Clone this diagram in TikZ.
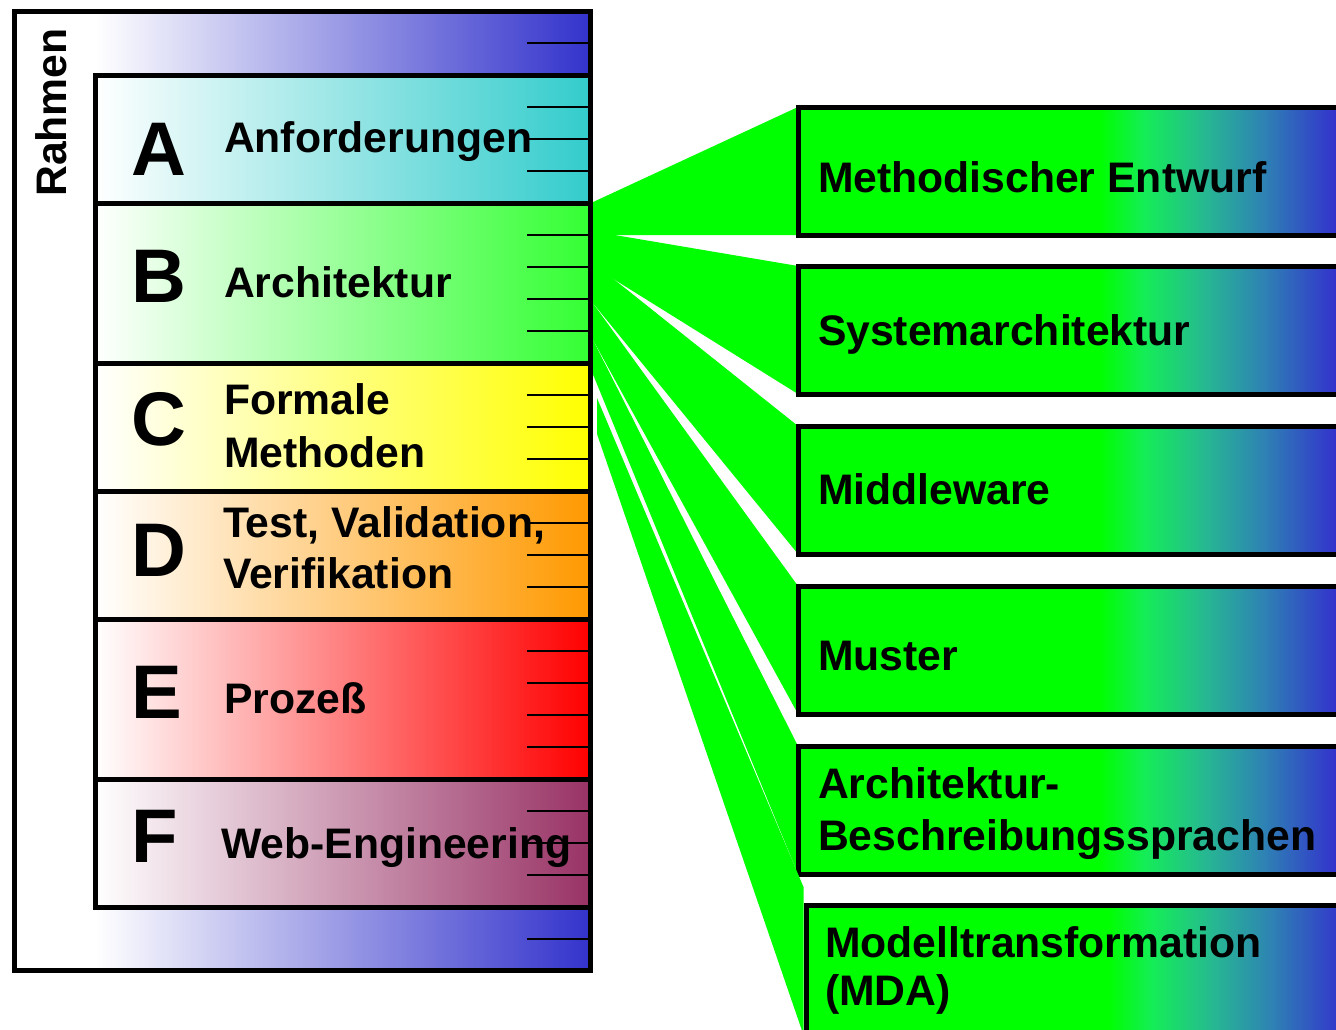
\documentclass[tikz,border=0pt]{standalone}
\usepackage{fontspec}
\setmainfont{Liberation Sans}
\usetikzlibrary{calc}

\definecolor{frameblue}{HTML}{3333CC}
\definecolor{reqteal}{HTML}{33CCCC}
\definecolor{archgreen}{HTML}{33FF33}
\definecolor{formyellow}{HTML}{FFFF00}
\definecolor{testorange}{HTML}{FF9900}
\definecolor{procred}{HTML}{FF0000}
\definecolor{webplum}{HTML}{993366}
\definecolor{fangreen}{HTML}{00FF00}
\definecolor{rampA}{RGB}{20,238,85}
\definecolor{rampB}{RGB}{38,185,145}
\definecolor{rampC}{RGB}{46,130,180}

% green plateau on the left, ramp through cyan to blue towards the right edge
\pgfdeclarehorizontalshading{topicshade}{100bp}{color(0bp)=(fangreen); color(52.5bp)=(fangreen); color(56.5bp)=(rampA); color(62bp)=(rampB); color(67.5bp)=(rampC); color(74bp)=(frameblue); color(100bp)=(frameblue)}

\pgfdeclarelayer{paper}
\pgfdeclarelayer{fan}
\pgfsetlayers{paper,fan,main}

\newcommand\lblfont{\fontsize{42.7}{50}\selectfont\bfseries}
\newcommand\letterfont{\fontsize{76}{80}\selectfont\bfseries}

\begin{document}
\begin{tikzpicture}[x=1pt,y=-1pt,
  rowbox/.style={draw=black, line width=5pt, minimum width=495pt, minimum height=#1,
                 anchor=north west, inner sep=0pt, outer sep=0pt},
  topic/.style={draw=black, line width=5pt, shading=topicshade, minimum width=548pt,
                minimum height=128pt, anchor=north west, inner sep=0pt, outer sep=0pt},
  tickline/.style={line width=2pt, draw=black},
  fanpoly/.style={fill=fangreen},
  lbl/.style={font=\lblfont, anchor=base west, inner sep=0pt, outer sep=0pt},
  bigletter/.style={font=\letterfont, anchor=base west, inner sep=0pt, outer sep=0pt}]

\useasboundingbox (0,0) rectangle (1336,1029);
\begin{pgfonlayer}{paper}
  \fill[white] (0,0) rectangle (1336,1029);
\end{pgfonlayer}

% ---- outer frame "Rahmen" with its blue band
\fill[white] (14,11) rectangle (590,970);
\fill[left color=white, right color=frameblue] (95,11) rectangle (590,970);

% ---- topic rows A to F
\node[rowbox=128pt, left color=white, right color=reqteal]    (rowA) at (95,75)  {};
\node[rowbox=160pt, left color=white, right color=archgreen]  (rowB) at (95,203) {};
\node[rowbox=128pt, left color=white, right color=formyellow] (rowC) at (95,363) {};
\node[rowbox=128pt, left color=white, right color=testorange] (rowD) at (95,491) {};
\node[rowbox=160pt, left color=white, right color=procred]    (rowE) at (95,619) {};
\node[rowbox=128pt, left color=white, right color=webplum]    (rowF) at (95,779) {};

% ---- scale ticks along the right edge
\foreach \ty in {43,107,139,171,235,267,299,331,395,427,459,523,555,587,651,683,715,747,811,843,875,939}
  \draw[tickline] (527,\ty) -- (590,\ty);

\node[draw=black, line width=5pt, minimum width=576pt, minimum height=959pt,
      anchor=north west, inner sep=0pt, outer sep=0pt] (rahmen) at (14,11) {};

\node[font=\lblfont, rotate=90, anchor=base west, inner sep=0pt] (rahmenlbl) at (66,197) {Rahmen};

% ---- row letters and titles
\node[bigletter] (letA) at (131,175) {A};
\node[bigletter] (letB) at (131,302) {B};
\node[bigletter] (letC) at (131,445) {C};
\node[bigletter] (letD) at (131,576) {D};
\node[bigletter] (letE) at (131,718) {E};
\node[bigletter] (letF) at (131,862) {F};

\node[lbl] (labA)  at (224,152) {Anforderungen};
\node[lbl] (labB)  at (224,297) {Architektur};
\node[lbl] (labC1) at (224,414) {Formale};
\node[lbl] (labC2) at (224,467) {Methoden};
\node[lbl] (labD1) at (223,537) {Test, Validation,};
\node[lbl] (labD2) at (223,588) {Verifikation};
\node[lbl] (labE)  at (224,713) {Prozeß};
\node[lbl] (labF)  at (221,858) {Web-Engineering};

% ---- architecture sub-topics
\node[topic] (t1) at (798,107) {};
\node[topic] (t2) at (798,266) {};
\node[topic] (t3) at (798,426) {};
\node[topic] (t4) at (798,586) {};
\node[topic] (t5) at (798,746) {};
\node[topic] (t6) at (806,905) {};

\node[lbl] (lt1)  at (818,192)  {Methodischer Entwurf};
\node[lbl] (lt2)  at (818,345)  {Systemarchitektur};
\node[lbl] (lt3)  at (818,504)  {Middleware};
\node[lbl] (lt4)  at (818,670)  {Muster};
\node[lbl] (lt5a) at (818,798)  {Architektur-};
\node[lbl] (lt5b) at (818,850)  {Beschreibungssprachen};
\node[lbl] (lt6a) at (825,957)  {Modelltransformation};
\node[lbl] (lt6b) at (825,1005) {(MDA)};

% ---- fan from row B to the sub-topics
\coordinate (f1a) at (591,203); \coordinate (f1b) at (591,235);
\coordinate (f2a) at (591,231); \coordinate (f2b) at (591,265);
\coordinate (f3a) at (591,261); \coordinate (f3b) at (592,302);
\coordinate (f4a) at (592,302); \coordinate (f4b) at (592,338);
\coordinate (f5a) at (592,338); \coordinate (f5b) at (592,372);
\coordinate (f6a) at (597,398); \coordinate (f6b) at (597,434);

\begin{pgfonlayer}{fan}
  \fill[fanpoly] (f1a) -- (t1.north west) -- (t1.south west) -- (f1b) -- cycle;
  \fill[fanpoly] (f2a) -- (t2.north west) -- (t2.south west) -- (f2b) -- cycle;
  \fill[fanpoly] (f3a) -- (t3.north west) -- (t3.south west) -- (f3b) -- cycle;
  \fill[fanpoly] (f4a) -- (t4.north west) -- (t4.south west) -- (f4b) -- cycle;
  \fill[fanpoly] (f5a) -- (t5.north west) -- (t5.south west) -- (f5b) -- cycle;
\end{pgfonlayer}
\fill[fanpoly] (f6a) -- ($(t6.north west)+(-2.5,-18)$) -- ($(t6.south west)+(-2.5,2)$) -- (f6b) -- cycle;

\end{tikzpicture}
\end{document}
